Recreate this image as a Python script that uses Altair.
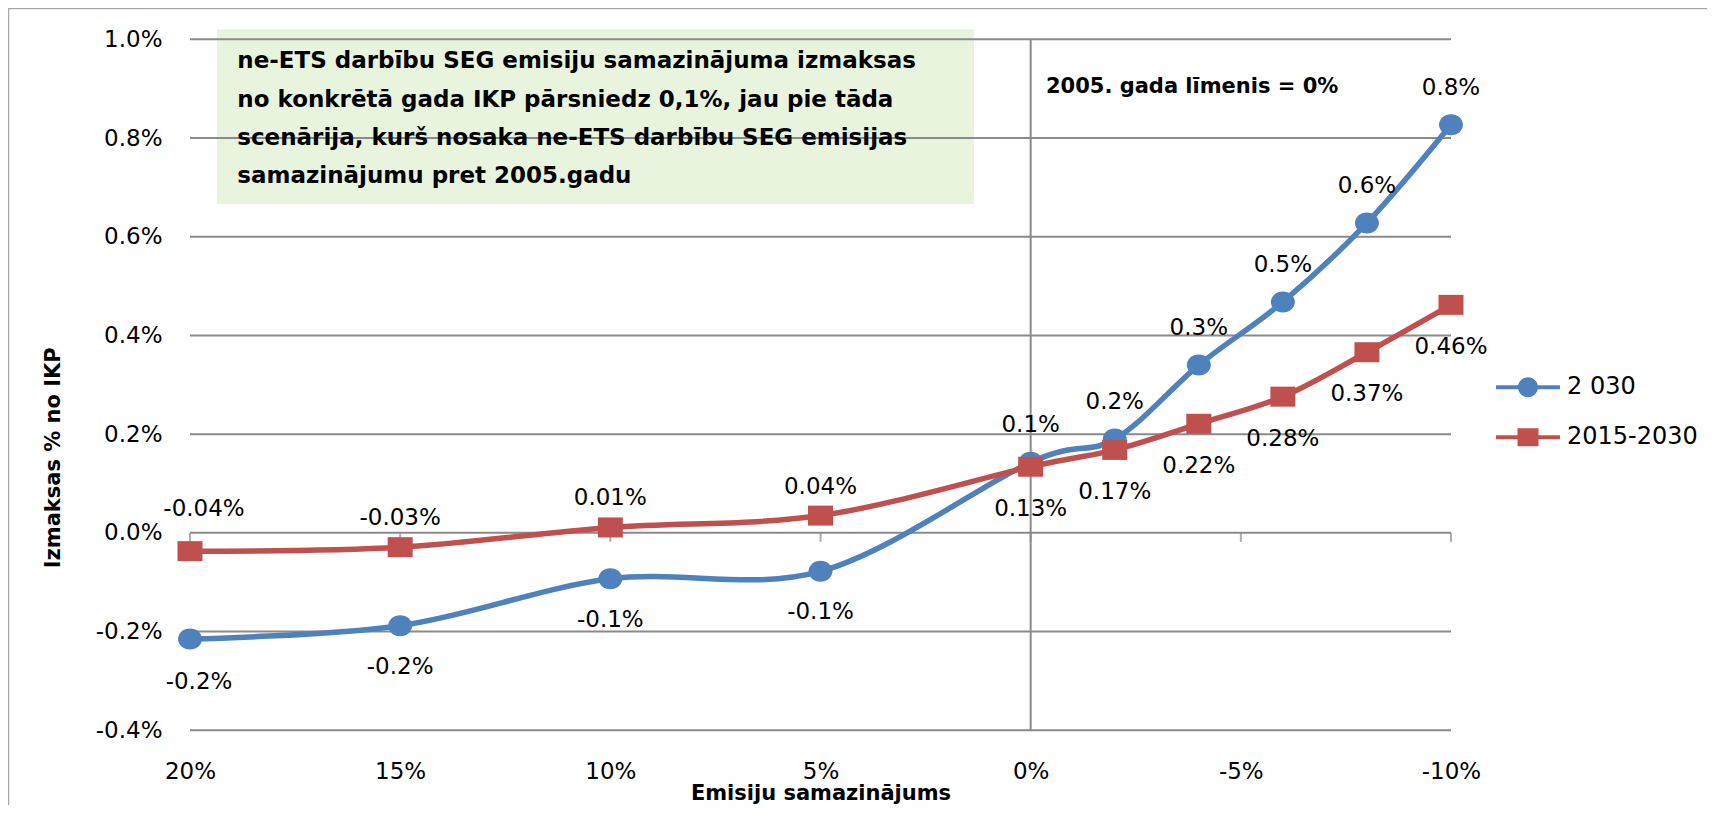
import altair as alt
import pandas as pd

# ---------------- data ----------------
x_vals = [20, 15, 10, 5, 0, -2, -4, -6, -8, -10]
blue_vals = [-0.215, -0.188, -0.093, -0.078, 0.143, 0.19, 0.34, 0.468, 0.628, 0.827]
red_vals = [-0.037, -0.029, 0.011, 0.035, 0.134, 0.168, 0.221, 0.276, 0.366, 0.462]
blue_labels = ["-0.2%", "-0.2%", "-0.1%", "-0.1%", "0.1%", "0.2%", "0.3%", "0.5%", "0.6%", "0.8%"]
red_labels = ["-0.04%", "-0.03%", "0.01%", "0.04%", "0.13%", "0.17%", "0.22%", "0.28%", "0.37%", "0.46%"]
series_names = ["2 030", "2015-2030"]
x_ticks = [20, 15, 10, 5, 0, -5, -10]
y_ticks = [-0.4, -0.2, 0.0, 0.2, 0.4, 0.6, 0.8, 1.0]
note_lines = [
    "ne-ETS darbību SEG emisiju samazinājuma izmaksas",
    "no konkrētā gada IKP pārsniedz 0,1%, jau pie tāda",
    "scenārija, kurš nosaka ne-ETS darbību SEG emisijas",
    "samazinājumu pret 2005.gadu",
]
level_note = "2005. gada līmenis = 0%"
x_title = "Emisiju samazinājums"
y_title = "Izmaksas % no IKP"

# ---------------- styles ----------------
BLUE = "#4F81BD"
RED = "#C0504D"
GRID = "#8A8A8A"
FONT = "DejaVu Sans"
W, H = 1261, 691

df = pd.DataFrame({
    "x": x_vals * 2,
    "v": blue_vals + red_vals,
    "label": blue_labels + red_labels,
    "series": [series_names[0]] * len(x_vals) + [series_names[1]] * len(x_vals),
})
ydf = pd.DataFrame({"v": y_ticks})
xdf = pd.DataFrame({"x": x_ticks})
one = pd.DataFrame({"a": [0]})

xscale = alt.Scale(domain=[-10, 20], reverse=True, nice=False, zero=False)
yscale = alt.Scale(domain=[-0.4, 1.0], nice=False, zero=False)

X = alt.X(
    "x:Q", scale=xscale,
    axis=alt.Axis(
        values=x_ticks, labelExpr="datum.value + '%'", grid=False, domain=False,
        ticks=False, labelFontSize=23, labelFont=FONT, labelColor="black",
        labelBaseline="alphabetic", labelPadding=48, labelFlush=False,
        title=x_title, titleFont=FONT, titleFontSize=21, titleFontWeight="bold",
        titleColor="black", titleBaseline="alphabetic", titleY=69,
    ),
)
Y = alt.Y(
    "v:Q", scale=yscale,
    axis=alt.Axis(
        values=y_ticks, labelExpr="replace(format(datum.value, '.1f'), '−', '-') + '%'",
        grid=False, domain=False, ticks=False, labelFontSize=23, labelFont=FONT,
        labelColor="black", labelPadding=28,
        title=y_title, titleFont=FONT, titleFontSize=21, titleFontWeight="bold",
        titleColor="black", titleBaseline="alphabetic", titleAngle=270,
        titleX=-131, titleY=418, titleAlign="center",
    ),
)

# marker shapes (slightly wide, as in the reference)
PT_CIRCLE = "M-1,0 A1,0.875 0 1,1 1,0 A1,0.875 0 1,1 -1,0 Z"
PT_SQUARE = "M-1,-0.8H1V0.8H-1Z"
LEG_CIRCLE = "M-3.2,-0.2H3.2V0.2H-3.2Z M-1,0 A1,1 0 1,1 1,0 A1,1 0 1,1 -1,0 Z"
LEG_SQUARE = "M-3.2,-0.2H3.2V0.2H-3.2Z M-1.05,-0.9H1.05V0.9H-1.05Z"

frame = alt.Chart(one).mark_rect(fillOpacity=0, stroke="#A8A8A8", strokeWidth=1.5).encode(
    x=alt.value(-181.5), x2=alt.value(W + 400), y=alt.value(-30.8), y2=alt.value(H + 200)
)
box = alt.Chart(one).mark_rect(fill="#E8F4DE").encode(
    x=alt.value(27), x2=alt.value(784), y=alt.value(-10), y2=alt.value(164.7)
)
grid = alt.Chart(ydf).mark_rule(color=GRID, strokeWidth=2).encode(y=Y)
vline = alt.Chart(xdf).transform_filter("datum.x == 0").mark_rule(color=GRID, strokeWidth=2).encode(x=X)
zticks = alt.Chart(xdf).transform_calculate(v="0").mark_tick(
    orient="vertical", size=9, thickness=2, color=GRID, yOffset=4.5
).encode(x=X, y=Y)


def sel(name):
    return f"datum.series == '{name}'"


blue_line = alt.Chart(df).transform_filter(sel(series_names[0])).mark_line(
    interpolate="cardinal", strokeWidth=5.5, color=BLUE
).encode(x=X, y=Y)
blue_pts = alt.Chart(df).transform_filter(sel(series_names[0])).mark_point(
    shape=PT_CIRCLE, size=576, filled=True, opacity=1, color=BLUE
).encode(x=X, y=Y)
red_line = alt.Chart(df).transform_filter(sel(series_names[1])).mark_line(
    interpolate="cardinal", strokeWidth=5.5, color=RED
).encode(x=X, y=Y)
red_pts = alt.Chart(df).transform_filter(sel(series_names[1])).mark_point(
    shape=PT_SQUARE, size=625, filled=True, opacity=1, color=RED
).encode(x=X, y=Y)


def labels(name, cond, dy, dx=0):
    return alt.Chart(df).transform_filter(f"{sel(name)} && {cond}").mark_text(
        font=FONT, fontSize=23, dy=dy, dx=dx, baseline="middle", align="center", color="black"
    ).encode(x=X, y=Y, text="label:N")


lab_b0 = labels(series_names[0], "datum.x == 20", 43, 9)
lab_b1 = labels(series_names[0], "datum.x > 0 && datum.x < 20", 41)
lab_b2 = labels(series_names[0], "datum.x <= 0", -37)
lab_r0 = labels(series_names[1], "datum.x == 20", -42, 14)
lab_r1 = labels(series_names[1], "datum.x > 0 && datum.x < 20", -29)
lab_r2 = labels(series_names[1], "datum.x <= 0", 42)

note = alt.Chart(one).mark_text(
    font=FONT, fontSize=23, fontWeight="bold", align="left", baseline="alphabetic",
    lineHeight=38.3, color="black"
).encode(x=alt.value(47.3), y=alt.value(29), text=alt.value(note_lines))
level = alt.Chart(one).mark_text(
    font=FONT, fontSize=21, fontWeight="bold", align="left", baseline="alphabetic", color="black"
).encode(x=alt.value(856), y=alt.value(54), text=alt.value(level_note))

leg_props = dict(
    orient="none", legendX=1326, legendY=336, title=None, labelFontSize=24, labelFont=FONT,
    labelColor="black", symbolSize=400, symbolStrokeWidth=0, labelOffset=27, rowPadding=26,
    padding=0,
)
legend_layer = alt.Chart(df).transform_filter("false").mark_point(filled=True, opacity=1).encode(
    color=alt.Color("series:N", scale=alt.Scale(domain=series_names, range=[BLUE, RED]),
                    legend=alt.Legend(**leg_props)),
    shape=alt.Shape("series:N", scale=alt.Scale(domain=series_names, range=[LEG_CIRCLE, LEG_SQUARE]),
                    legend=alt.Legend(**leg_props)),
)

chart = alt.layer(
    frame, box, grid, vline, zticks, blue_line, blue_pts, red_line, red_pts,
    lab_b0, lab_b1, lab_b2, lab_r0, lab_r1, lab_r2, note, level, legend_layer,
).properties(
    width=W, height=H,
    autosize=alt.AutoSizeParams(type="none"),
    padding={"left": 182, "top": 31.3, "right": 256, "bottom": 74.5},
).configure_view(stroke=None)

chart.save("out.html", embed_options={"renderer": "svg", "actions": False})
